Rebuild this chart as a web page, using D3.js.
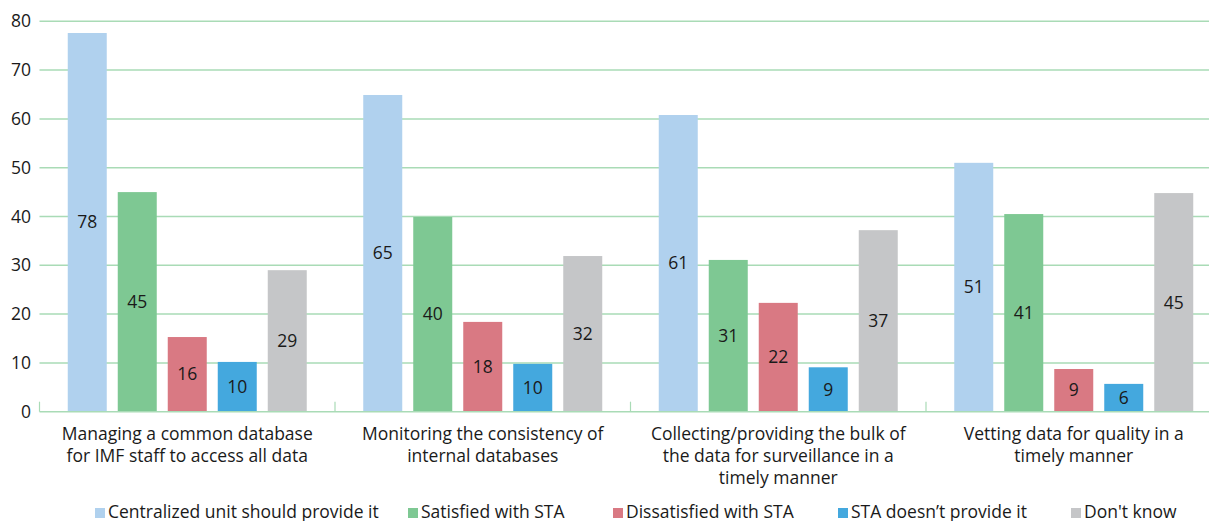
<!DOCTYPE html>
<html>
<head>
<meta charset="utf-8">
<script src="https://cdn.jsdelivr.net/npm/d3@7"></script>
<style>
  body { margin: 0; background: #fff; }
  svg { display: block; font-family: "Open Sans", sans-serif; }
</style>
</head>
<body>
<svg id="chart" width="1209" height="521"></svg>
<script>
// categories (each entry = lines of the label)
var categories = [
  ["Managing a common database", "for IMF staff to access all data"],
  ["Monitoring the consistency of", "internal databases"],
  ["Collecting/providing the bulk of", "the data for surveillance in a", "timely manner"],
  ["Vetting data for quality in a", "timely manner"]
];
var seriesNames = ["Centralized unit should provide it", "Satisfied with STA", "Dissatisfied with STA", "STA doesn\u2019t provide it", "Don't know"];
var seriesColors = ["#b0d1ee", "#7ec893", "#d97983", "#44a8de", "#c5c6c8"];

// bar heights
var centralized = [77.6, 64.9, 60.8, 51.0];
var satisfied   = [45.0, 39.9, 31.1, 40.5];
var dissatisfied = [15.3, 18.4, 22.3, 8.75];
var notProvided = [10.2, 9.8, 9.1, 5.7];
var dontKnow    = [29.0, 31.9, 37.2, 44.8];
// printed data labels
var centralizedLbl = [78, 65, 61, 51];
var satisfiedLbl   = [45, 40, 31, 41];
var dissatisfiedLbl = [16, 18, 22, 9];
var notProvidedLbl = [10, 10, 9, 6];
var dontKnowLbl    = [29, 32, 37, 45];

var yTicks = [0, 10, 20, 30, 40, 50, 60, 70, 80];

var allValues = [centralized, satisfied, dissatisfied, notProvided, dontKnow];
var allLabels = [centralizedLbl, satisfiedLbl, dissatisfiedLbl, notProvidedLbl, dontKnowLbl];

var svg = d3.select("#chart");
var plotLeft = 39.5, plotRight = 1221.5, plotTop = 21.3, plotBottom = 411.7;
var fontSize = 17.5;

var x0 = d3.scaleBand().domain(d3.range(categories.length)).range([plotLeft, plotRight]).padding(0);
var x1 = d3.scaleBand().domain(d3.range(seriesNames.length)).range([0, x0.bandwidth()])
  .paddingInner(0.22).paddingOuter(0.565);
var y = d3.scaleLinear().domain([0, 80]).range([plotBottom, plotTop]);

var gridColor = "#a9dbb6";

// gridlines
svg.append("g").selectAll("line").data(yTicks.filter(function(t){ return t > 0; }))
  .join("line")
  .attr("x1", plotLeft).attr("x2", plotRight)
  .attr("y1", function(d){ return y(d); }).attr("y2", function(d){ return y(d); })
  .attr("stroke", gridColor).attr("stroke-width", 1.5);

// y tick labels
svg.append("g").selectAll("text").data(yTicks).join("text")
  .attr("x", 31).attr("y", function(d){ return y(d); })
  .attr("dy", "0.35em").attr("text-anchor", "end")
  .attr("font-size", fontSize).attr("fill", "#1a1a1a")
  .text(function(d){ return d; });

// bars
var groups = svg.append("g").selectAll("g").data(categories).join("g")
  .attr("transform", function(d, i){ return "translate(" + x0(i) + ",0)"; });

groups.each(function(c, ci) {
  var g = d3.select(this);
  allValues.forEach(function(vals, si) {
    var v = vals[ci];
    g.append("rect")
      .attr("x", x1(si)).attr("width", x1.bandwidth())
      .attr("y", y(v)).attr("height", y(0) - y(v))
      .attr("fill", seriesColors[si]);
    g.append("text")
      .attr("x", x1(si) + x1.bandwidth() / 2)
      .attr("y", (y(v) + y(0)) / 2)
      .attr("dy", "0.35em").attr("text-anchor", "middle")
      .attr("font-size", fontSize).attr("fill", "#1a1a1a")
      .text(allLabels[si][ci]);
  });
});

// x axis line and ticks
svg.append("line").attr("x1", plotLeft).attr("x2", plotRight)
  .attr("y1", plotBottom).attr("y2", plotBottom)
  .attr("stroke", gridColor).attr("stroke-width", 1.5);
svg.append("g").selectAll("line").data(d3.range(categories.length + 1)).join("line")
  .attr("x1", function(i){ return plotLeft + i * x0.step(); })
  .attr("x2", function(i){ return plotLeft + i * x0.step(); })
  .attr("y1", plotBottom).attr("y2", plotBottom - 10)
  .attr("stroke", gridColor).attr("stroke-width", 1.2);

// category labels
svg.append("g").selectAll("text").data(categories).join("text")
  .attr("x", function(d, i){ return x0(i) + x0.bandwidth() / 2; })
  .attr("y", 440)
  .attr("text-anchor", "middle").attr("font-size", fontSize).attr("fill", "#1a1a1a")
  .selectAll("tspan").data(function(d){ return d; }).join("tspan")
  .attr("x", function(){ return d3.select(this.parentNode).attr("x"); })
  .attr("dy", function(d, i){ return i === 0 ? 0 : 22; })
  .text(function(d){ return d; });

// legend
var legendX = [95, 408, 613, 838, 1071];
var legend = svg.append("g").selectAll("g").data(seriesNames).join("g")
  .attr("transform", function(d, i){ return "translate(" + legendX[i] + ",0)"; });
legend.append("rect").attr("x", 0).attr("y", 508).attr("width", 10).attr("height", 10)
  .attr("fill", function(d, i){ return seriesColors[i]; });
legend.append("text").attr("x", 13).attr("y", 517.5)
  .attr("font-size", fontSize).attr("fill", "#1a1a1a")
  .text(function(d){ return d; });
</script>
</body>
</html>
